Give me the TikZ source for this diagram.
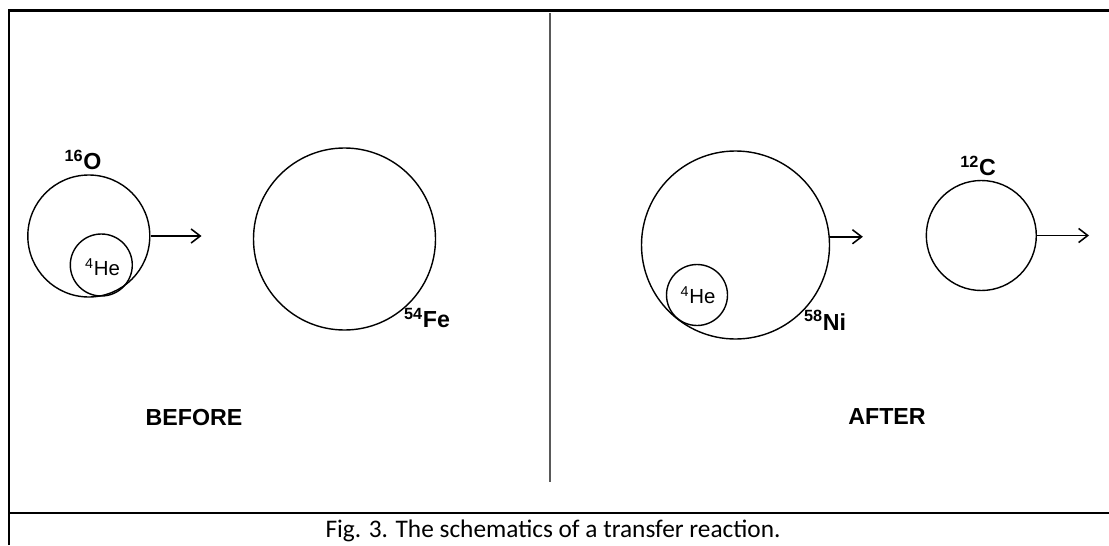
\documentclass[tikz,border=0pt]{standalone}
\usepackage{fontspec}
\setmainfont{Liberation Sans}
\newfontfamily\capfont{Carlito}
\usetikzlibrary{arrows.meta}

\newcommand{\iso}[2]{\textsuperscript{#1}#2}
\def\pxl{0.025cm}

\begin{document}
\begin{tikzpicture}[x=0.025cm, y=-0.025cm,
  nuc/.style={draw, circle, line width=1pt, inner sep=0pt},
  heavy/.style={font=\fontsize{16.5}{18}\selectfont\bfseries, inner sep=0pt},
  light/.style={font=\fontsize{14.5}{16}\selectfont, inner sep=0pt},
  stage/.style={font=\fontsize{16.5}{19}\selectfont\bfseries, inner sep=0pt},
  move/.style={line width=1.1pt, -{Straight Barb[length=6.5pt,width=10pt]}},
  frame/.style={line width=1.5pt}]

  \useasboundingbox (0,0) rectangle (1109,545);

  % Frame and divider
  \draw[frame] (9,545) -- (9,10.5) -- (1109,10.5);
  \draw[frame] (9,513) -- (1109,513);
  \draw[black!65, line width=1.3pt] (550,13) -- (550,482);

  % Before
  \node[nuc, minimum size={122*\pxl}] (O) at (88.8,236) {};
  \node[nuc, minimum size={62*\pxl}] (HeL) at (101.3,265) {};
  \node[nuc, minimum size={182*\pxl}] (Fe) at (344.5,239) {};
  \node[heavy] (lO) at (83,160) {\iso{16}{O}};
  \node[light] (lHeL) at (102.5,267) {\iso{4}{He}};
  \node[heavy] (lFe) at (427,318) {\iso{54}{Fe}};
  \path (O.east) ++(51,0) coordinate (Oend);
  \draw[move] (O.east) -- (Oend);
  \node[stage] (before) at (194,417.5) {BEFORE};

  % After
  \node[nuc, minimum size={188*\pxl}] (Ni) at (735.5,245) {};
  \node[nuc, minimum size={61*\pxl}] (HeR) at (697,295) {};
  \node[nuc, minimum size={110*\pxl}] (C) at (981.3,235.5) {};
  \node[light] (lHeR) at (698,295) {\iso{4}{He}};
  \node[heavy] (lNi) at (825,320) {\iso{58}{Ni}};
  \node[heavy] (lC) at (978,166) {\iso{12}{C}};
  \path (Ni.5) ++(33,0) coordinate (Niend);
  \draw[move] (Ni.5) -- (Niend);
  \path (C.east) ++(52,0) coordinate (Cend);
  \draw[move] (C.east) -- (Cend);
  \node[stage] (after) at (887,417) {AFTER};

  % Caption
  \node[font=\capfont\fontsize{18}{20}\selectfont, inner sep=0pt] (cap)
    at (553,530.5) {Fig. 3. The schematics of a transfer reaction.};
\end{tikzpicture}
\end{document}
